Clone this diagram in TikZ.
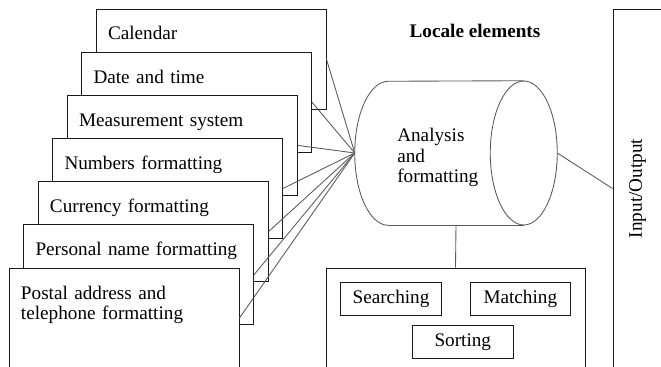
\documentclass[tikz,border=0pt]{standalone}
\usepackage{fontspec}
\setmainfont{Liberation Serif}
\usepackage{graphicx}
\usepackage{xcolor}
\usetikzlibrary{calc}
\definecolor{ink}{HTML}{1A1A1A}
\definecolor{wiregray}{HTML}{5A5A5A}
\newcommand{\bodysize}{\fontsize{14.4}{15.5}\selectfont}
\tikzset{
  card/.style={draw=ink,fill=white,line width=0.65pt,
               minimum width=172.5pt,minimum height=75pt,
               text width=154.5pt,align=left,
               inner xsep=9pt,inner ysep=0pt,
               text height=23.25pt,text depth=51.75pt,
               font=\bodysize},
  toolbox/.style={draw=ink,line width=0.65pt,
                  minimum width=75.5pt,minimum height=24.75pt,
                  inner sep=0pt,font=\bodysize},
  frame/.style={draw=ink,line width=0.65pt,inner sep=0pt},
  hubtext/.style={text width=90pt,align=left,inner sep=0pt,font=\bodysize},
  cylline/.style={draw=wiregray,line width=0.65pt},
  wire/.style={draw=wiregray,line width=0.65pt}
}

\begin{document}
\begin{tikzpicture}[x=0.75pt,y=-0.75pt]
  \useasboundingbox (0,0) rectangle (661,367);
  \clip (0,0) rectangle (661,367);

  % stacked locale cards, back to front
  \foreach \txt [count=\i from 0] in {Calendar,Date and time,Measurement system,
      Numbers formatting,Currency formatting,Personal name formatting,
      {Postal address and\\telephone formatting}}
    \node[card] (card\i) at ({211-14.5*\i},{59+43.17*\i}) {\txt};

  \node[font=\bodysize\bfseries,anchor=base,inner sep=0pt] (title) at (475,37.5) {Locale elements};

  % cylinder
  \node[minimum width=151.5pt,minimum height=108pt,inner sep=0pt] (cyl) at (456,153) {};
  \draw[cylline] ($(cyl.south west)+(33.5,0)$)
      arc[start angle=90,end angle=270,x radius=33.5,y radius=72]
      -- ($(cyl.north east)+(-33.5,0)$);
  \draw[cylline] ($(cyl.south west)+(33.5,0)$) -- ($(cyl.south east)+(-33.5,0)$);
  \draw[cylline] ($(cyl.east)+(-33.5,0)$) ellipse[x radius=33.5,y radius=72];
  \node[hubtext,anchor=base west] (hub) at (397,141.5) {Analysis\\and\\formatting};

  % services below
  \node[frame,minimum width=194.25pt,minimum height=99pt] (tools) at (455.5,334) {};
  \node[toolbox] (search) at (391,299.2) {Searching};
  \node[toolbox] (match) at (520.3,299.2) {Matching};
  \node[toolbox] (sort) at (462.8,342.2) {Sorting};

  \node[frame,minimum width=36.75pt,minimum height=269.25pt,font=\bodysize] (io)
    at (637.5,188.5) {\rotatebox{90}{Input/Output}};

  \foreach \i in {0,...,6}
    \draw[wire] (card\i.east) -- (cyl.west);
  \draw[wire] (cyl.south) -- (tools.north);
  \draw[wire] (cyl.east) -- (io.west);
\end{tikzpicture}
\end{document}
